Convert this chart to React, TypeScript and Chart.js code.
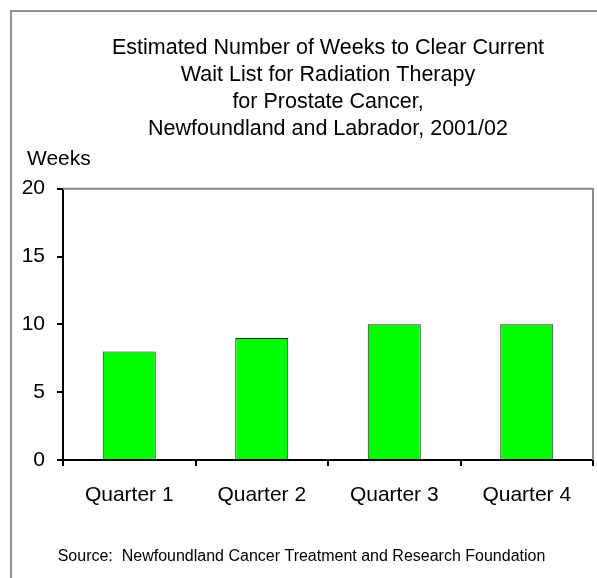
import React, { useEffect, useRef } from 'react';
import { Chart, registerables } from 'chart.js';

Chart.register(...registerables);

const categories = ['Quarter 1', 'Quarter 2', 'Quarter 3', 'Quarter 4'];
const weeks = [8, 9, 10, 10];
const yTicks = [0, 5, 10, 15, 20];
const titleLines = [
  'Estimated Number of Weeks to Clear Current',
  'Wait List for Radiation Therapy',
  'for Prostate Cancer,',
  'Newfoundland and Labrador, 2001/02',
];
const yAxisLabel = 'Weeks';
const sourceNote = 'Source:  Newfoundland Cancer Treatment and Research Foundation';

const FONT = '"Liberation Sans", Arial, Helvetica, sans-serif';

const framePlugin = {
  id: 'frameAndLabels',
  beforeDraw(chart: any) {
    const ctx = chart.ctx;
    ctx.save();
    ctx.fillStyle = '#ffffff';
    ctx.fillRect(0, 0, chart.width, chart.height);
    ctx.strokeStyle = '#6e6e6e';
    ctx.lineWidth = 1.5;
    ctx.beginPath();
    ctx.moveTo(11, chart.height);
    ctx.lineTo(11, 11);
    ctx.lineTo(chart.width, 11);
    ctx.stroke();
    ctx.restore();
  },
  beforeDatasetsDraw(chart: any) {
    const ctx = chart.ctx;
    const { left, top, right, bottom } = chart.chartArea;
    ctx.save();
    ctx.strokeStyle = '#8a8a8a';
    ctx.lineWidth = 2;
    ctx.beginPath();
    ctx.moveTo(left, top);
    ctx.lineTo(right, top);
    ctx.lineTo(right, bottom);
    ctx.stroke();
    ctx.restore();
  },
  afterDraw(chart: any) {
    const ctx = chart.ctx;
    const { left, top } = chart.chartArea;
    ctx.save();
    ctx.fillStyle = '#000';
    ctx.font = `21px ${FONT}`;
    ctx.textAlign = 'left';
    ctx.textBaseline = 'alphabetic';
    ctx.fillText(yAxisLabel, left - 36, top - 23.5);
    ctx.restore();
  },
};

export default function App() {
  const ref = useRef<HTMLCanvasElement>(null);

  useEffect(() => {
    if (!ref.current) return;
    Chart.defaults.font.family = FONT;
    Chart.defaults.color = '#000';
    const chart = new Chart(ref.current, {
      type: 'bar',
      data: {
        labels: categories,
        datasets: [
          {
            data: weeks,
            backgroundColor: '#00ff00',
            borderColor: '#222222',
            borderWidth: 1,
            categoryPercentage: 1,
            barPercentage: 0.4,
          },
        ],
      },
      plugins: [framePlugin],
      options: {
        responsive: false,
        animation: false,
        devicePixelRatio: 1,
        layout: { padding: { left: 10, right: 4, top: 0, bottom: 0 } },
        plugins: {
          legend: { display: false },
          tooltip: { enabled: false },
          title: {
            display: true,
            text: titleLines,
            fullSize: false,
            color: '#000',
            font: { size: 21.5, weight: 'normal', lineHeight: 27 / 21.5 },
            padding: { top: 34.5, bottom: 46.2 },
          },
          subtitle: {
            display: true,
            position: 'bottom',
            text: sourceNote,
            color: '#000',
            font: { size: 16, weight: 'normal', lineHeight: 1.2 },
            padding: { top: 27.4, bottom: 11.4 },
          },
        },
        scales: {
          x: {
            grid: {
              display: true,
              drawOnChartArea: false,
              drawTicks: true,
              tickLength: 6,
              color: '#000',
              lineWidth: 2,
              offset: true,
            },
            border: { display: true, color: '#000', width: 2 },
            ticks: {
              color: '#000',
              font: { size: 21 },
              padding: 16.4,
              maxRotation: 0,
              autoSkip: false,
            },
            afterFit: (s: any) => {
              s.height = 60;
            },
          },
          y: {
            min: 0,
            max: 20,
            afterBuildTicks: (axis: any) => {
              axis.ticks = yTicks.map((v) => ({ value: v }));
            },
            grid: {
              drawOnChartArea: false,
              drawTicks: true,
              tickLength: 6,
              color: '#000',
              lineWidth: 2,
            },
            border: { display: true, color: '#000', width: 2 },
            ticks: {
              color: '#000',
              font: { size: 21 },
              padding: 12,
            },
            afterFit: (s: any) => {
              s.width = 53;
            },
          },
        },
      },
    } as any);
    return () => chart.destroy();
  }, []);

  return (
    <div style={{ position: 'absolute', left: 0, top: 0, width: 597, height: 578, background: '#fff' }}>
      <canvas ref={ref} width={597} height={578} style={{ display: 'block', width: 597, height: 578 }} />
    </div>
  );
}
